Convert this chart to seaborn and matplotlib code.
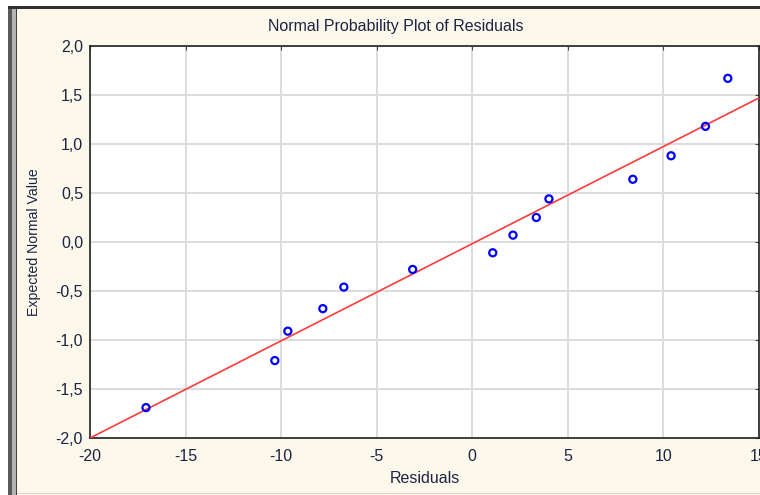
import matplotlib
matplotlib.use("Agg")
import matplotlib.pyplot as plt
import matplotlib.patches as mpatches
from matplotlib.ticker import FuncFormatter, FixedLocator
import seaborn as sns
import pandas as pd

# Data
residuals = [-17.07, -10.33, -9.65, -7.82, -6.72, -3.12, 1.07, 2.13, 3.35, 4.01, 8.40, 10.40, 12.20, 13.37]
expected = [-1.69, -1.21, -0.91, -0.68, -0.46, -0.28, -0.11, 0.07, 0.25, 0.44, 0.64, 0.88, 1.18, 1.67]
fit_x = [-20.0, 15.0]
fit_y = [-2.0, 1.47]
x_ticks = [-20, -15, -10, -5, 0, 5, 10, 15]
y_ticks = [-2.0, -1.5, -1.0, -0.5, 0.0, 0.5, 1.0, 1.5, 2.0]
title = "Normal Probability Plot of Residuals"
xlabel = "Residuals"
ylabel = "Expected Normal Value"

sns.set_style("white")
plt.rcParams['font.family'] = ['Liberation Sans', 'DejaVu Sans']

W, H = 760, 495
fig = plt.figure(figsize=(W / 100, H / 100), dpi=100)
fig.patch.set_facecolor("white")

cream = "#fdf8ec"
# cream panel and window-like border
fig.add_artist(mpatches.Rectangle((17 / W, 0), 1, 1 - 8 / H, transform=fig.transFigure,
                                  facecolor=cream, edgecolor="none", zorder=0))
fig.add_artist(mpatches.Rectangle((8 / W, 0), 4 / W, 1 - 6 / H, transform=fig.transFigure,
                                  facecolor="#5a5a5a", edgecolor="none", zorder=0))
fig.add_artist(mpatches.Rectangle((12 / W, 0), 4 / W, 1 - 8 / H, transform=fig.transFigure,
                                  facecolor="#b4b4b4", edgecolor="none", zorder=0))
fig.add_artist(mpatches.Rectangle((16 / W, 0), 1.2 / W, 1 - 8 / H, transform=fig.transFigure,
                                  facecolor="#404040", edgecolor="none", zorder=0))
fig.add_artist(mpatches.Rectangle((8 / W, 1 - 9 / H), 1, 3 / H, transform=fig.transFigure,
                                  facecolor="#303030", edgecolor="none", zorder=0))
fig.add_artist(mpatches.Rectangle((17 / W, 1 / H), 1, 1.0 / H, transform=fig.transFigure,
                                  facecolor="#d8d4cc", edgecolor="none", zorder=0))

left, right, top, bottom = 90, 759, 46, 438
ax = fig.add_axes([left / W, 1 - bottom / H, (right - left) / W, (bottom - top) / H])
ax.set_facecolor("white")

df_pts = pd.DataFrame({"Residuals": residuals, "Expected": expected})
df_line = pd.DataFrame({"x": fit_x, "y": fit_y})

sns.lineplot(data=df_line, x="x", y="y", ax=ax, color="#ff3b3b", linewidth=1.2, zorder=3)
sns.scatterplot(data=df_pts, x="Residuals", y="Expected", ax=ax, marker="o",
                facecolors="none", edgecolor="#0000ff", linewidth=1.6, s=26, zorder=4)

ax.set_xlim(-20, 15)
ax.set_ylim(-2.0, 2.0)
ax.xaxis.set_major_locator(FixedLocator(x_ticks))
ax.yaxis.set_major_locator(FixedLocator(y_ticks))
ax.yaxis.set_major_formatter(FuncFormatter(lambda v, p: f"{v:.1f}".replace(".", ",").replace("-0,0", "0,0")))
ax.xaxis.set_major_formatter(FuncFormatter(lambda v, p: f"{v:.0f}"))

ax.grid(True, color="#dcdcdc", linewidth=1.4)
ax.set_axisbelow(True)
for s in ax.spines.values():
    s.set_visible(True)
    s.set_color("#222222")
    s.set_linewidth(1.2)

tick_color = "#1b2440"
fs = 11.5
ax.tick_params(axis="both", which="both", direction="in", length=3, width=0.8,
               top=True, right=True, labelsize=fs, labelcolor=tick_color, color="#444444",
               pad=5)
ax.tick_params(axis="x", pad=8)

ax.set_xlabel(xlabel, fontsize=fs, color=tick_color, labelpad=5)
ax.set_ylabel(ylabel, fontsize=10.2, color=tick_color)
ax.yaxis.set_label_coords(-(90 - 41) / (right - left), 0.5)
fig.text(396 / W, 1 - 26 / H, title, ha="center", va="center", fontsize=fs, color=tick_color)

fig.savefig("out.png", dpi=100, facecolor=fig.get_facecolor())
